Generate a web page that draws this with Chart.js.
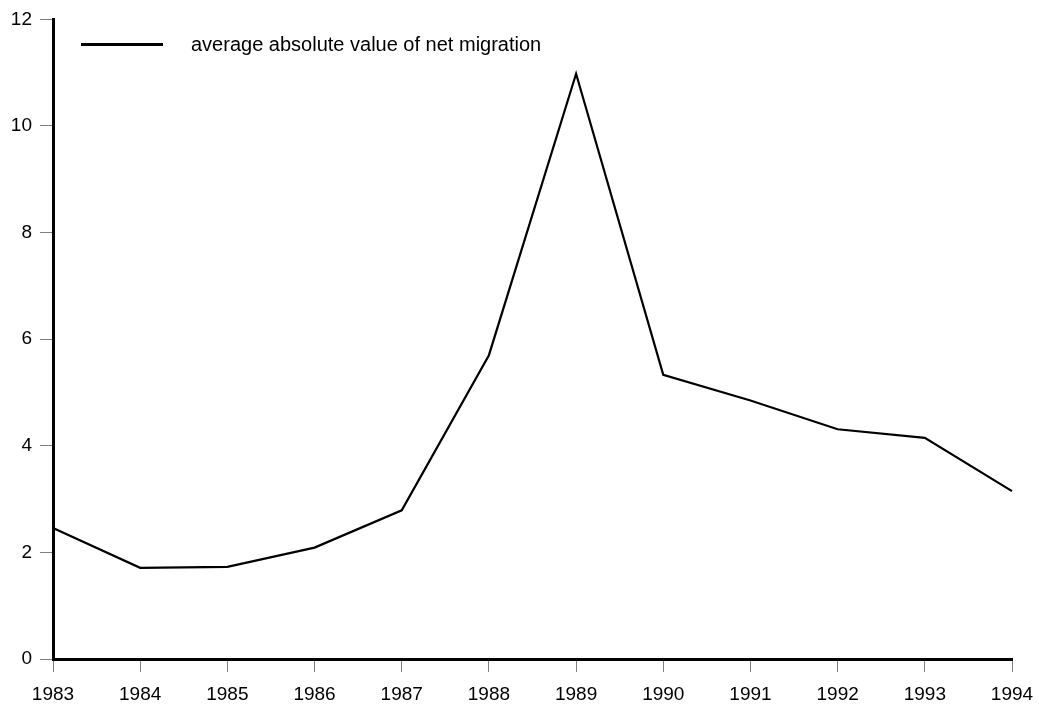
<!DOCTYPE html>
<html>
<head>
<meta charset="utf-8">
<script src="https://cdn.jsdelivr.net/npm/chart.js@4.4.1/dist/chart.umd.min.js"></script>
<style>
html,body{margin:0;padding:0;background:#fff;}
#wrap{width:1039px;height:704px;position:relative;}
</style>
</head>
<body>
<div id="wrap"><canvas id="c" width="1039" height="704"></canvas></div>
<script>
const years = ['1983','1984','1985','1986','1987','1988','1989','1990','1991','1992','1993','1994'];
const netMigration = [2.46, 1.71, 1.73, 2.09, 2.79, 5.70, 10.98, 5.33, 4.85, 4.31, 4.15, 3.15];
const seriesLabel = 'average absolute value of net migration';
const yTicks = [0, 2, 4, 6, 8, 10, 12];

const FONT = '"Liberation Sans", Arial, sans-serif';

const legendPlugin = {
  id: 'insideLegend',
  afterDraw(chart) {
    const ctx = chart.ctx;
    ctx.save();
    ctx.strokeStyle = '#000';
    ctx.lineWidth = 3;
    ctx.beginPath();
    ctx.moveTo(81, 44.5);
    ctx.lineTo(163, 44.5);
    ctx.stroke();
    ctx.fillStyle = '#000';
    ctx.font = '20px ' + FONT;
    ctx.textBaseline = 'alphabetic';
    ctx.textAlign = 'left';
    ctx.fillText(chart.data.datasets[0].label, 191, 51);
    ctx.restore();
  }
};

new Chart(document.getElementById('c'), {
  type: 'line',
  data: {
    labels: years,
    datasets: [{
      label: seriesLabel,
      data: netMigration,
      borderColor: '#000',
      backgroundColor: '#000',
      borderWidth: 2.2,
      pointRadius: 0,
      tension: 0,
      fill: false
    }]
  },
  options: {
    responsive: false,
    animation: false,
    devicePixelRatio: 1,
    layout: { padding: { left: 0, right: 27, top: 19, bottom: 0 } },
    plugins: { legend: { display: false }, tooltip: { enabled: false } },
    scales: {
      x: {
        type: 'category',
        offset: false,
        grid: { drawOnChartArea: false, drawTicks: true, tickLength: 13, color: '#808080', lineWidth: 1 },
        border: { display: true, color: '#000', width: 3 },
        ticks: { color: '#000', font: { family: FONT, size: 19 }, padding: 11, maxRotation: 0, autoSkip: false },
        afterFit(scale) { scale.height = 45; scale.paddingLeft = 0; scale.paddingRight = 0; }
      },
      y: {
        min: 0, max: 12,
        afterBuildTicks(scale) { scale.ticks = yTicks.map(v => ({ value: v })); },
        grid: { drawOnChartArea: false, drawTicks: true, tickLength: 13, color: '#808080', lineWidth: 1 },
        border: { display: true, color: '#000', width: 3 },
        ticks: { color: '#000', font: { family: FONT, size: 19 }, padding: 8 },
        afterFit(scale) { scale.width = 53; }
      }
    }
  },
  plugins: [legendPlugin]
});
</script>
</body>
</html>
